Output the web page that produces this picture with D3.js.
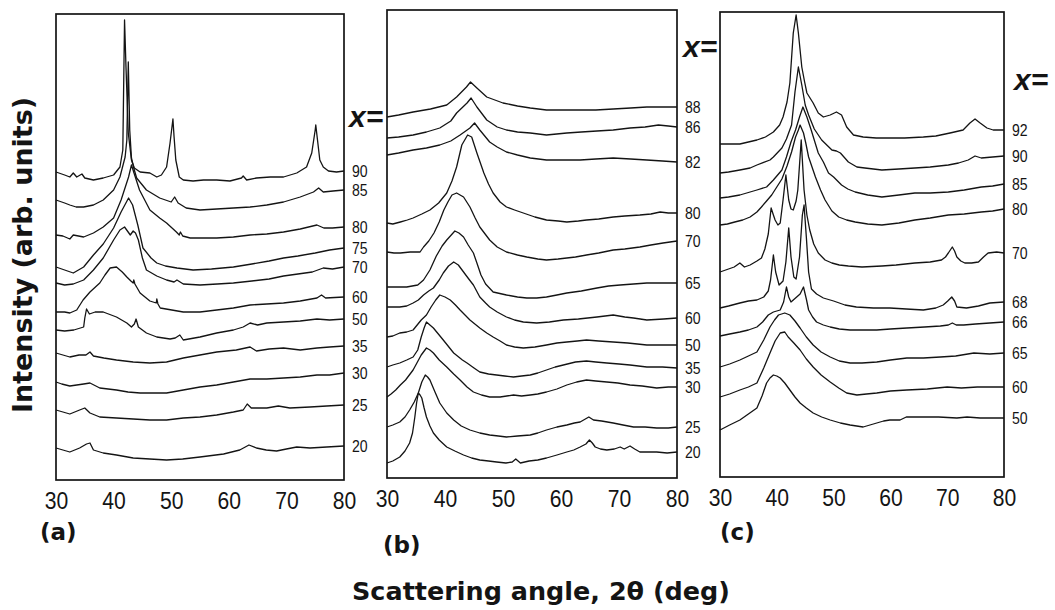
<!DOCTYPE html>
<html><head><meta charset="utf-8">
<script src="https://cdn.jsdelivr.net/npm/d3@7"></script>
<style>
body{margin:0;background:#fff}
svg{display:block}
</style></head><body>
<svg id="chart" width="1055" height="610"></svg>
<script>
// X-ray diffraction scans: [2θ (deg), intensity (arb. units, stacked)]
const angleTicks = [30, 40, 50, 60, 70, 80];

// ---- series (a) ----
const compA = [90, 85, 80, 75, 70, 60, 50, 35, 30, 25, 20];
const a90 = [[30,308],[31.5,305],[32.4,303],[33,307],[33.6,303],[34.5,306],[35,302],[36.5,300],[38.2,302],[40,305],[41.1,313],[41.6,330],[41.9,460],[42.15,413],[42.55,347],[43.1,320],[43.6,312],[44.6,308],[46.3,307],[47.5,303],[48.3,305],[49.2,313],[49.8,337],[50.3,361],[50.5,343],[50.8,320],[51.4,303],[52.1,300],[53.8,299],[55.6,300],[57.9,300],[60.2,299],[62.2,302],[62.5,304],[63.1,300],[64.8,302],[67.2,303],[69.5,303],[71.8,307],[73.5,313],[74.4,327],[75,350],[75.1,355],[75.4,340],[75.8,320],[76.4,313],[77.3,309],[78.7,308],[80,309]];
const a85 = [[30,280],[31.5,277],[32.4,275],[33.5,273],[34.8,273],[36.5,275],[38.2,280],[40,290],[41.1,303],[42,323],[42.3,340],[42.55,418],[42.8,350],[43.1,322],[43.5,312],[44,302],[45.7,290],[48,282],[50,278],[50.6,283],[51.2,277],[52.6,272],[55,270],[57.9,271],[60.8,272],[63.7,273],[66.6,275],[69.5,278],[72.4,283],[74.7,288],[75.6,292],[76.4,288],[78.1,289],[80,290]];
const a80 = [[30,245],[31.2,244],[32.4,241],[33,245],[34.8,243],[36.5,247],[38.2,253],[40,262],[41.3,280],[42.6,303],[43.1,315],[43.6,306],[44.5,290],[46.3,270],[48,262],[49.2,257],[50.9,248],[51.4,245],[51.6,248],[52,244],[53.3,242],[55,242],[57.9,242],[60.8,243],[63.7,245],[66.6,246],[69.5,248],[72.4,251],[75.3,255],[76.5,252],[78,252],[80,253]];
const a75 = [[30,213],[31.5,210],[33,207],[34.8,213],[36.5,225],[38.2,236],[40,252],[41.3,268],[42.6,282],[43.3,275],[44.2,255],[45.1,232],[46.5,222],[47.5,217],[49,214],[51,212],[53.8,210],[57,211],[60.8,213],[64,216],[67,219],[69.5,222],[72,224],[75,227],[77.5,230],[80,232]];
const a70 = [[30,197],[31.5,195],[33,196],[34.8,200],[36.5,210],[38.2,222],[40,240],[41.1,250],[41.9,253],[42.9,245],[43.4,249],[43.8,247],[44.3,240],[45,222],[45.7,210],[47.5,204],[49.2,200],[50.5,198],[51,200],[52.1,196],[55,195],[58,196],[60.8,197],[64,199],[67,201],[69.5,204],[72,206],[74.5,208],[76.4,212],[78,211],[80,213]];
const a60 = [[30,168],[31.5,168],[32.4,167],[33.6,170],[34.7,180],[35.9,188],[37.6,197],[38.5,205],[39.4,212],[40.5,213],[41.5,208],[42.3,203],[43,199],[43.4,197],[43.5,200],[43.7,196],[44.6,187],[46.3,179],[47.4,177],[47.5,181],[47.7,176],[48.1,172],[50.1,170],[52.1,168],[55,168],[57.9,170],[60.8,172],[63.7,175],[66.6,176],[69.5,177],[72.4,179],[75.3,182],[76.1,185],[76.8,182],[80,183]];
const a50 = [[30,150],[31.5,149],[33.1,150],[34.8,153],[35,162],[35.3,171],[35.8,166],[36.8,168],[38.2,168],[40.5,163],[42.3,157],[43.1,153],[43.6,156],[43.9,161],[44.3,153],[45.7,147],[47.5,143],[49.8,141],[50.7,142],[51.5,145],[52.1,140],[55,143],[57.9,147],[60.8,150],[62.5,153],[63.7,157],[65,155],[66.6,157],[69.5,158],[72.4,159],[75.3,161],[77.5,160],[80,161]];
const a35 = [[30,127],[31.2,125],[32.4,123],[34,125],[35.2,125],[35.9,128],[36.5,124],[38.3,122],[40.5,120],[43.4,118],[46.3,117],[49.2,118],[52.1,122],[55,125],[57.9,128],[61.3,130],[63.7,133],[64.8,129],[67,131],[69.5,132],[72.4,130],[75.3,132],[77.5,133],[80,134]];
const a30 = [[30,98],[31,96],[32.4,94],[34.8,96],[35.9,97],[37.6,92],[40.5,90],[42.5,88],[44.6,87],[47,87],[49.2,87],[52.1,90],[55,93],[57.9,95],[60.8,98],[63.7,101],[66.6,101],[69.5,102],[72.4,103],[75.3,105],[77.5,105],[80,107]];
const a25 = [[30,70],[31.2,68],[32.4,66],[34.1,70],[35,72],[35.9,67],[37.6,63],[40.5,62],[43.4,61],[46.3,60],[49.2,60],[52.1,62],[55,63],[57.9,65],[60.8,68],[62.5,70],[63.2,76],[63.9,72],[66.6,72],[68.6,74],[70.6,72],[74.1,73],[77,74],[80,75]];
const a20 = [[30,32],[31.2,30],[32.4,28],[34.1,32],[35.3,36],[35.9,37],[36.5,30],[38.2,27],[40.5,25],[43.4,22],[46.3,21],[49.2,20],[52,21],[55,23],[59.1,26],[61.9,30],[63.5,35],[64.8,32],[66.5,30],[68.3,29],[70,31],[71.8,33],[74.1,32],[77,33],[80,34]];

// ---- series (b) ----
const compB = [88, 86, 82, 80, 70, 65, 60, 50, 35, 30, 25, 20];
const b88 = [[30,361],[32,363],[34.5,366],[37.5,369],[40.3,373],[42,381],[43.7,391],[44.4,396],[45.5,390],[47.2,381],[50,375],[52.5,372],[54.7,370],[57.5,368],[60.5,368],[63.3,368],[66,368],[69,369],[72,370],[74.8,371],[77.5,371],[80,371]];
const b86 = [[30,340],[32,341],[34.5,343],[36.8,346],[39.1,350],[41,357],[42,365],[43.8,375],[44.5,380],[45.5,371],[47.2,358],[49,351],[50.6,348],[52.5,346],[54.7,345],[57.5,343],[61,345],[63.5,346],[66.2,347],[69,348],[71.9,350],[74.5,351],[76.8,353],[78.5,352],[80,351]];
const b82 = [[30,323],[32,325],[34.5,328],[36.8,330],[39.1,333],[41,337],[42.6,343],[44.3,350],[45.1,355],[46,348],[47.7,336],[49,331],[50.6,326],[52.5,323],[54.7,320],[57.5,318],[60.5,318],[63.3,318],[66,319],[69,320],[72,319],[74.8,318],[77.5,317],[80,316]];
const b80 = [[30,255],[31,254],[32.3,256],[33.5,258],[34.5,260],[36,264],[37.4,268],[38.9,275],[40.3,285],[41.2,297],[42,311],[42.9,333],[43.9,343],[44.6,341],[45.5,325],[46.7,305],[47.5,294],[48.3,285],[49.5,276],[50.6,271],[52,268],[53.5,265],[55.5,261],[57.5,258],[59.5,257],[61,256],[63,257],[64.4,258],[66.5,259],[69,261],[71,262],[73.6,263],[75.5,264],[77.1,266],[78.5,265],[80,265]];
const b70 = [[30,226],[31.2,225],[32.3,225],[34,226],[35.7,226],[36.3,231],[37.2,237],[38.1,245],[39,256],[39.8,268],[40.5,276],[41.2,283],[42,285],[43.2,281],[44.3,271],[45.2,260],[46,251],[47.7,238],[49,231],[50.6,226],[52.5,223],[54.1,221],[56,219],[57.5,218],[59.5,219],[61,220],[62.5,221],[64.4,223],[66.5,225],[69,228],[71,229],[73.6,231],[75.5,233],[77.6,235],[80,237]];
const b65 = [[30,191],[31.5,191],[33.4,191],[35.3,193],[36.3,198],[37.4,208],[38.5,222],[39.5,232],[40.3,238],[41.7,247],[42.4,245],[43.2,241],[44,233],[44.9,225],[45.5,215],[46.2,203],[47,194],[48.3,186],[50.6,183],[52.5,181],[54.1,180],[55.8,180],[57.5,181],[59.3,183],[61,185],[63.5,187],[66.2,190],[68.2,192],[70.2,193],[72.5,194],[74.8,195],[77.5,195],[80,195]];
const b60 = [[30,171],[32.2,171],[33.4,172],[34.5,175],[35.4,178],[36.3,183],[37.2,187],[38,190],[39,198],[39.7,205],[40.6,212],[41.5,216],[42.3,213],[43.2,206],[44.1,199],[44.9,193],[46,181],[47,175],[47.7,171],[49,166],[50.6,161],[52,158],[53.5,156],[55.8,155],[58,156],[60.4,158],[63,159],[66.2,161],[69,163],[71,161],[72.5,160],[74.8,158],[77.7,159],[80,160]];
const b50 = [[30,141],[31,142],[32.2,145],[33.4,146],[34.5,148],[35.9,158],[36.8,163],[37.6,171],[38.4,178],[39.1,183],[40,181],[40.9,178],[41.8,173],[42.6,168],[44.3,158],[46,150],[47.2,145],[48.3,141],[49.5,137],[50.6,133],[52,131],[53.5,130],[55.5,131],[57.5,133],[59.3,135],[61,136],[62.8,137],[64.4,138],[66.5,137],[69,136],[71.5,135],[74.8,133],[77.5,133],[80,133]];
const b35 = [[30,111],[31,113],[32.2,115],[33.4,118],[34.5,121],[35.3,128],[35.9,141],[36.4,150],[36.8,156],[37.4,153],[38,150],[39.7,138],[41.5,125],[43,118],[43.8,115],[45,110],[46,106],[47.5,104],[48.9,103],[50.3,102],[51.8,101],[53.2,102],[54.7,103],[56,105],[57.5,108],[59,111],[60.4,113],[62.5,116],[64.4,117],[66,116],[67.9,115],[70,114],[71.9,113],[74.8,111],[77.5,111],[80,110]];
const b30 = [[30,81],[30.7,84],[31.5,88],[32.3,93],[33.2,98],[34.5,108],[35.9,123],[36.8,130],[37.4,128],[38,125],[39,118],[40.3,111],[41.5,104],[42.6,98],[43.8,91],[44.9,86],[46.3,83],[47.7,81],[49.5,81],[51.8,83],[53.2,82],[54.7,83],[56,84],[57.5,86],[59.3,89],[61,93],[62.7,96],[64.4,98],[66,97],[67.9,96],[69.8,95],[71.9,93],[74,92],[76.5,90],[78.5,91],[80,91]];
const b25 = [[30,51],[31,53],[32.2,56],[33.1,61],[33.9,68],[34.7,76],[35.4,85],[36,96],[36.6,103],[37,101],[37.4,98],[38.2,87],[39.1,75],[40.3,65],[41.5,58],[42.8,52],[44.3,48],[46,45],[47.7,43],[49.2,42],[50.6,41],[52.5,42],[54.7,43],[56,45],[57.5,48],[59.3,51],[61,53],[62.3,55],[63.3,56],[64.8,61],[65.6,58],[67,57],[69,55],[70.7,53],[72.5,51],[74.5,51],[76.5,50],[78.5,50],[80,51]];
const b20 = [[30,15],[31,17],[32.2,21],[33.1,27],[33.9,35],[34.4,45],[34.8,61],[35.1,75],[35.4,85],[35.7,83],[36,80],[36.4,70],[36.8,61],[37.4,52],[38,45],[39,38],[40.3,31],[41.7,27],[43.2,23],[44.6,20],[46,18],[47.5,17],[48.9,16],[50.5,15],[51.6,16],[52.2,19],[52.6,17],[53,15],[54.5,17],[56,18],[57.5,20],[59.3,23],[61,26],[62.2,28],[63.3,31],[64.3,34],[64.9,38],[65.4,35],[65.9,31],[66.8,29],[67.9,28],[69.2,29],[70.2,31],[70.9,29],[71.9,32],[72.7,29],[73.6,26],[75,26],[76.5,26],[78.3,25],[80,26]];

// ---- series (c) ----
const compC = [92, 90, 85, 80, 70, 68, 66, 65, 60, 50];
const c92 = [[30,333],[31.5,333],[33.5,333],[35,335],[36.5,337],[38,340],[39.4,345],[40.5,352],[41.1,360],[41.8,375],[42.3,394],[42.9,444],[43.4,462],[43.8,444],[44.4,410],[44.9,395],[45.3,384],[46.4,374],[47.3,364],[48.2,360],[49.4,362],[50.5,365],[51.4,362],[52.3,350],[53.5,342],[55.2,340],[57.5,339],[59.9,339],[62.5,339],[65.8,340],[68,341],[70.5,344],[72.8,347],[74,354],[74.9,358],[75.8,354],[77,349],[78.1,347],[80,347]];
const c90 = [[30,304],[31.5,305],[33.5,307],[35.3,309],[36.5,312],[38.8,317],[39.4,320],[40.9,329],[41.7,338],[42.6,352],[43.2,385],[43.8,410],[44.4,392],[45,372],[45.6,362],[46.6,348],[47.9,337],[49.7,327],[50.5,326],[51.2,324],[52.6,315],[54.1,310],[55.5,309],[58.5,307],[61.5,308],[64.3,309],[67,310],[70.2,312],[72,314],[73.7,317],[74.9,321],[76,319],[78,320],[80,321]];
const c85 = [[30,279],[31.5,280],[33.5,282],[35.3,285],[36.5,287],[38.2,290],[39.4,297],[40.9,307],[41.7,320],[42.5,335],[43.3,347],[44,360],[44.6,370],[45.3,360],[46,348],[47.3,324],[48.2,315],[49.1,304],[50,300],[51.4,292],[52.5,288],[53.8,285],[56,282],[58.5,280],[61.5,282],[64.3,284],[67,284],[70.2,285],[73,287],[76,290],[78,291],[80,293]];
const c80 = [[30,252],[31.3,253],[32.6,255],[34,257],[35.3,260],[36.5,265],[37.3,270],[38.2,276],[39.1,282],[40,290],[40.9,298],[41.8,311],[42.6,325],[43.3,340],[43.8,347],[44.1,352],[44.7,344],[45.1,334],[45.6,320],[46.2,310],[46.8,300],[47.7,287],[48.5,277],[49.7,266],[50.9,260],[52.3,257],[53.8,255],[56,253],[58.5,252],[61.5,254],[64.3,257],[67,259],[70.2,262],[73,263],[76,265],[78,266],[80,268]];
const c70 = [[30,205],[31.5,208],[32.5,210],[33.5,214],[34.3,210],[35.3,212],[36.5,216],[37.3,219],[37.9,228],[38.5,243],[39,269],[39.4,262],[39.7,257],[40.2,252],[40.6,254],[41.1,277],[41.6,302],[42.1,277],[42.5,268],[42.9,267],[43.4,276],[43.7,287],[44.3,337],[44.8,287],[45.3,262],[45.8,247],[46.5,233],[47.3,224],[48.5,217],[49.7,214],[51,212],[52.6,211],[55,210],[58.5,211],[61,212],[64.3,214],[67,215],[69,217],[69.7,220],[70.2,224],[70.9,230],[71.3,226],[71.7,220],[72.4,216],[73.1,214],[74.3,214],[75.5,215],[76.4,220],[77.2,224],[78.7,225],[80,224]];
const c68 = [[30,169],[31.5,171],[33.5,174],[35,176],[36.5,177],[37.7,180],[38.5,186],[38.9,197],[39.4,222],[39.8,205],[40.4,192],[41.1,196],[41.6,215],[42.1,249],[42.5,220],[43,200],[43.4,198],[44,220],[44.5,262],[44.8,272],[45.2,240],[45.6,205],[46.1,188],[47,183],[48.2,179],[50,176],[52,172],[54,170],[57,169],[59.9,169],[62.8,168],[65.8,167],[68,169],[69.3,172],[70.1,176],[70.8,180],[71.3,176],[71.7,170],[73.4,169],[75.5,171],[77.5,174],[80,175]];
const c66 = [[30,141],[31.7,143],[33.5,145],[35,147],[36.5,150],[37.5,155],[38.5,162],[39.4,165],[40.6,167],[41.2,175],[41.7,190],[42.1,180],[42.5,175],[43.5,180],[44.1,183],[44.7,190],[45.2,178],[45.6,167],[46.3,160],[47,155],[48.2,152],[49.4,150],[51,148],[52.9,147],[55,147],[57.6,147],[60,148],[62.9,149],[66,150],[68.8,151],[70.2,152],[70.9,154],[71.6,152],[72.9,152],[75,153],[77.5,154],[80,155]];
const c65 = [[30,110],[31.7,113],[33.5,117],[35,121],[36.5,125],[37.7,137],[38.8,150],[39.6,157],[40.3,162],[41.4,164],[42.3,162],[43.2,156],[44.1,149],[45.2,140],[46.4,132],[47.8,125],[49.4,120],[51,116],[52.9,114],[55,114],[57.6,115],[60,117],[62.9,119],[65.8,119],[68.8,120],[71.5,121],[74.7,124],[77.5,123],[80,124]];
const c60 = [[30,80],[31.7,83],[33.5,87],[35,90],[36.5,94],[37.7,109],[38.8,124],[39.7,136],[40.6,144],[41.4,145],[42,140],[43,134],[44.1,127],[45.2,118],[46.4,110],[47.8,102],[49.4,95],[50.9,89],[52.3,84],[54.1,82],[55.8,83],[57.6,84],[60,86],[62.9,87],[66.5,88],[70,90],[72.5,89],[75.3,90],[77.5,90],[80,90]];
const c50 = [[30,47],[31.7,52],[33.5,57],[35,63],[36.5,69],[37.4,81],[38.2,94],[38.8,99],[39.4,102],[40,101],[40.6,99],[41.4,94],[42.3,87],[43.2,80],[44.1,74],[45.2,69],[46.4,64],[47.9,60],[49.4,57],[51.2,54],[52.9,52],[55.2,50],[56.4,52],[57.6,54],[58.8,56],[59.9,57],[61.7,57],[62.8,60],[64,60],[65.8,60],[68.5,60],[71.7,59],[73.5,60],[75.8,59],[78,59],[80,59]];

const scansA = [a90, a85, a80, a75, a70, a60, a50, a35, a30, a25, a20];
const scansB = [b88, b86, b82, b80, b70, b65, b60, b50, b35, b30, b25, b20];
const scansC = [c92, c90, c85, c80, c70, c68, c66, c65, c60, c50];

// panel frames and annotation placement
const panels = [
  {comps: compA, scans: scansA, left: 56,  right: 344,  top: 14, bottom: 480, tag: "(a)", tagX: 40,  tagY: 540, eqX: 349,  eqY: 127},
  {comps: compB, scans: scansB, left: 387, right: 677,  top: 10, bottom: 478, tag: "(b)", tagX: 383, tagY: 553, eqX: 683,  eqY: 57},
  {comps: compC, scans: scansC, left: 720, right: 1004, top: 12, bottom: 477, tag: "(c)", tagX: 720, tagY: 540, eqX: 1014, eqY: 90}
];

const svg = d3.select("#chart");
const ink = "#141414";

panels.forEach(p => {
  const x = d3.scaleLinear().domain([30, 80]).range([p.left, p.right]);
  const y = d3.scaleLinear().domain([0, 470]).range([p.bottom, p.bottom - 470]);
  const g = svg.append("g");

  g.append("rect")
    .attr("x", p.left).attr("y", p.top)
    .attr("width", p.right - p.left).attr("height", p.bottom - p.top)
    .attr("fill", "none").attr("stroke", ink).attr("stroke-width", 1.7);

  const line = d3.line().x(d => x(d[0])).y(d => y(d[1]));
  g.selectAll("path.scan").data(p.scans).join("path")
    .attr("class", "scan")
    .attr("d", line)
    .attr("fill", "none").attr("stroke", ink)
    .attr("stroke-width", 1.3).attr("stroke-linejoin", "round");

  // composition labels at the right-hand end of each scan
  g.selectAll("text.comp").data(p.scans).join("text")
    .attr("class", "comp")
    .attr("transform", d => `translate(${p.right + 8},${y(d[d.length - 1][1]) + 6}) scale(0.88,1)`)
    .attr("font-family", "Liberation Sans, Arial, sans-serif")
    .attr("font-size", 16).attr("fill", ink)
    .text((d, i) => p.comps[i]);

  g.append("text")
    .attr("x", p.eqX).attr("y", p.eqY)
    .attr("font-family", "Liberation Sans, Arial, sans-serif")
    .attr("font-size", 30).attr("font-weight", "bold").attr("font-style", "italic")
    .attr("fill", ink)
    .text("x=");

  const ax = g.append("g")
    .attr("transform", `translate(0,${p.bottom})`)
    .call(d3.axisBottom(x).tickValues(angleTicks).tickSize(0).tickPadding(12));
  ax.select(".domain").remove();
  ax.selectAll("text")
    .attr("font-family", "Liberation Sans, Arial, sans-serif")
    .attr("font-size", 24).attr("fill", ink)
    .attr("transform", "scale(0.88,1)");

  g.append("text")
    .attr("x", p.tagX).attr("y", p.tagY)
    .attr("font-family", "DejaVu Sans, sans-serif")
    .attr("font-size", 23).attr("font-weight", "bold").attr("fill", ink)
    .text(p.tag);
});

svg.append("text")
  .attr("x", 541).attr("y", 600)
  .attr("text-anchor", "middle")
  .attr("font-family", "DejaVu Sans, sans-serif")
  .attr("font-size", 25).attr("font-weight", "bold").attr("fill", ink)
  .attr("textLength", 378).attr("lengthAdjust", "spacingAndGlyphs")
  .text("Scattering angle,  2θ (deg)");

svg.append("text")
  .attr("transform", "translate(32,255) rotate(-90)")
  .attr("text-anchor", "middle")
  .attr("font-family", "DejaVu Sans, sans-serif")
  .attr("font-size", 26).attr("font-weight", "bold").attr("fill", ink)
  .attr("textLength", 316).attr("lengthAdjust", "spacingAndGlyphs")
  .text("Intensity (arb. units)");
</script>
</body></html>
